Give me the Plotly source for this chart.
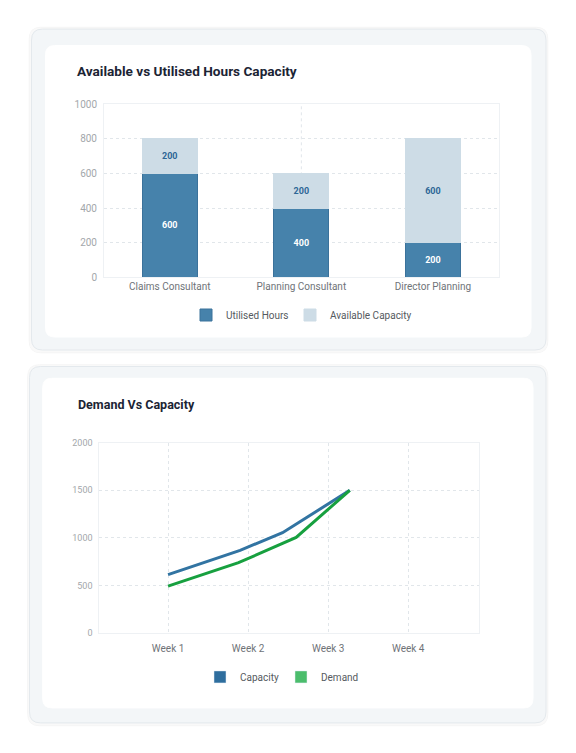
import plotly.graph_objects as go

# --- data ---
roles = ["Claims Consultant", "Planning Consultant", "Director Planning"]
utilised_hours = [600, 400, 200]
available_capacity = [200, 200, 600]

week_labels = ["Week 1", "Week 2", "Week 3", "Week 4"]
week_ticks = [1, 2, 3, 4]
capacity_x = [1, 1.9, 2.43, 3.27]
capacity_y = [615, 870, 1055, 1500]
demand_x = [1, 1.88, 2.6, 3.27]
demand_y = [495, 740, 1005, 1500]

W, H = 576, 753
FONT = "Roboto"


def px(x):
    return x / W


def py(y):
    # the page comes out slightly squeezed vertically, so stretch the layout a bit
    y = (y - 4.9) / 0.987
    return 1 - y / H


def rounded_rect(x0, y0, x1, y1, r, fill, line_color=None):
    # rounded rectangle in pixel coords converted to paper coords
    p = (f"M {px(x0 + r)},{py(y0)} L {px(x1 - r)},{py(y0)} "
         f"Q {px(x1)},{py(y0)} {px(x1)},{py(y0 + r)} "
         f"L {px(x1)},{py(y1 - r)} Q {px(x1)},{py(y1)} {px(x1 - r)},{py(y1)} "
         f"L {px(x0 + r)},{py(y1)} Q {px(x0)},{py(y1)} {px(x0)},{py(y1 - r)} "
         f"L {px(x0)},{py(y0 + r)} Q {px(x0)},{py(y0)} {px(x0 + r)},{py(y0)} Z")
    return dict(type="path", xref="paper", yref="paper", path=p, fillcolor=fill,
                line=dict(color=line_color or fill, width=1), layer="below")


fig = go.Figure()

# --- bar chart ---
fig.add_trace(go.Bar(
    x=roles, y=utilised_hours, name="Utilised Hours",
    marker=dict(color="#4682ab", line=dict(color="#3b729b", width=1)),
    text=utilised_hours, texttemplate="<b>%{text}</b>", textposition="inside",
    insidetextanchor="middle", textfont=dict(color="white", size=9, family=FONT),
    xaxis="x", yaxis="y", legend="legend", legendwidth=59, hoverinfo="skip"))
fig.add_trace(go.Bar(
    x=roles, y=available_capacity, name="Available Capacity",
    marker=dict(color="#cddce6", line=dict(color="#cddce6", width=1)),
    text=available_capacity, texttemplate="<b>%{text}</b>", textposition="inside",
    insidetextanchor="middle", textfont=dict(color="#2d6796", size=9, family=FONT),
    xaxis="x", yaxis="y", legend="legend", legendwidth=110, hoverinfo="skip"))

# --- line chart ---
fig.add_trace(go.Scatter(
    x=capacity_x, y=capacity_y, mode="lines", name="Capacity",
    line=dict(color="#3274a2", width=3), showlegend=False,
    xaxis="x2", yaxis="y2"))
fig.add_trace(go.Scatter(
    x=demand_x, y=demand_y, mode="lines", name="Demand",
    line=dict(color="#17a03f", width=3), showlegend=False,
    xaxis="x2", yaxis="y2"))
# square legend swatches for the line chart
fig.add_trace(go.Bar(x=[None], y=[None], name="Capacity", marker_color="#2e6e9e",
                     xaxis="x2", yaxis="y2", legend="legend2", legendwidth=36))
fig.add_trace(go.Bar(x=[None], y=[None], name="Demand", marker_color="#4bbd6c",
                     xaxis="x2", yaxis="y2", legend="legend2", legendwidth=70))

grid = "#e1e6ea"
frame = "#eef1f4"

fig.update_layout(
    width=W, height=H,
    margin=dict(l=0, r=0, t=0, b=0),
    paper_bgcolor="white",
    plot_bgcolor="rgba(0,0,0,0)",
    font=dict(family=FONT, color="#6f7378"),
    barmode="stack", bargap=0.58,
    xaxis=dict(domain=[px(104), px(498.7)], anchor="y", showgrid=False,
               showline=True, mirror=True, linecolor=frame, ticks="",
               tickfont=dict(size=10, color="#6f7378"), fixedrange=True),
    yaxis=dict(domain=[py(277.3), py(104)], anchor="x", range=[0, 1000], dtick=200,
               showgrid=True, gridcolor=grid, griddash="dot", zeroline=False,
               showline=True, mirror=True, linecolor=frame, ticks="",
               tickfont=dict(size=10, color="#a3a7ab"), ticklabelstandoff=4),
    xaxis2=dict(domain=[px(99.3), px(479.3)], anchor="y2", range=[0.141, 4.888],
                tickvals=week_ticks, ticktext=week_labels,
                showgrid=True, gridcolor=grid, griddash="dot", zeroline=False,
                showline=True, mirror=True, linecolor=frame, ticks="",
                tickfont=dict(size=10, color="#6f7378"), ticklabelstandoff=6),
    yaxis2=dict(domain=[py(633.3), py(442.7)], anchor="x2", range=[0, 2000], dtick=500,
                showgrid=True, gridcolor=grid, griddash="dot", zeroline=False,
                showline=True, mirror=True, linecolor=frame, ticks="",
                tickfont=dict(size=9, color="#a3a7ab"), ticklabelstandoff=4),
    legend=dict(orientation="h", x=px(186), y=py(315), xanchor="left", yanchor="middle",
                font=dict(size=10, color="#555a60"),
                bgcolor="rgba(0,0,0,0)", traceorder="normal"),
    legend2=dict(orientation="h", x=px(200), y=py(677), xanchor="left", yanchor="middle",
                 font=dict(size=10, color="#555a60"),
                 bgcolor="rgba(0,0,0,0)", traceorder="normal"),
    showlegend=True,
)

# card backgrounds
shapes = [
    rounded_rect(29, 27, 548, 353, 12, "rgba(0,0,0,0.025)"),
    rounded_rect(31.5, 29, 546, 350, 11, "#f3f6f8", "#e4e9ed"),
    rounded_rect(45.5, 45.5, 531, 337, 9, "white"),
    rounded_rect(27.5, 364.5, 548, 726, 12, "rgba(0,0,0,0.025)"),
    rounded_rect(29.5, 366.5, 546, 723, 11, "#f3f6f8", "#e4e9ed"),
    rounded_rect(42.7, 378.3, 533, 708, 9, "white"),
]
# single dotted vertical grid line at the middle category
shapes.append(dict(type="line", xref="x", yref="y domain", x0=roles[1], x1=roles[1],
                   y0=0, y1=1, line=dict(color=grid, width=1, dash="dot"), layer="below"))
fig.update_layout(shapes=shapes)

# card titles
fig.add_annotation(text="<b>Available vs Utilised Hours Capacity</b>", xref="paper", yref="paper",
                   x=px(75), y=py(71), xanchor="left", yanchor="middle", showarrow=False,
                   font=dict(size=13.6, color="#1b2434", family=FONT))
fig.add_annotation(text="<b>Demand Vs Capacity</b>", xref="paper", yref="paper",
                   x=px(76), y=py(405), xanchor="left", yanchor="middle", showarrow=False,
                   font=dict(size=12.5, color="#1b2434", family=FONT))

# page body has a default margin; drop it so the figure sits at the window origin
fig.write_html("out.html", config={"displayModeBar": False},
               post_script="document.body.style.margin='0';")
